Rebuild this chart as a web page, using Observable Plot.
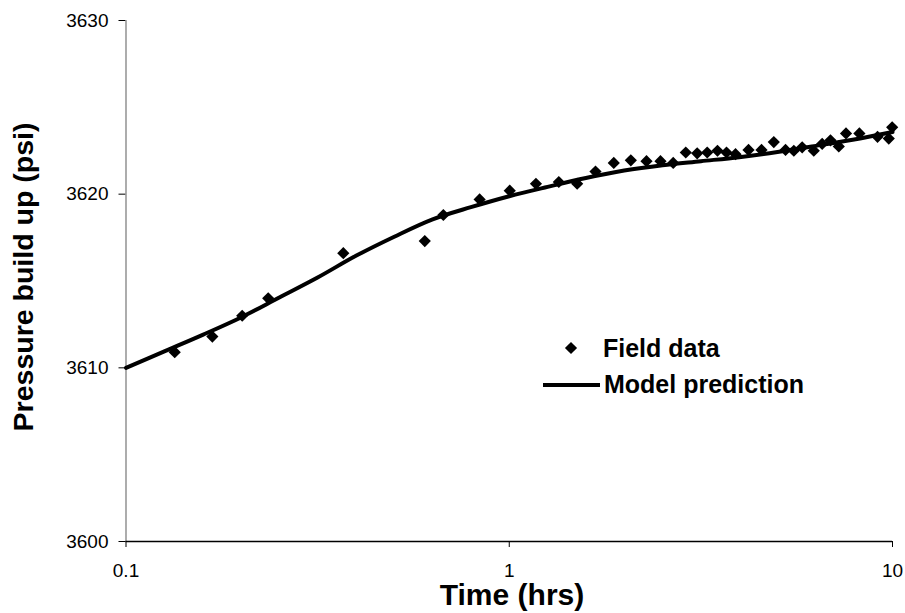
<!DOCTYPE html>
<html>
<head>
<meta charset="utf-8">
<script src="https://cdn.jsdelivr.net/npm/d3@7"></script>
<script src="https://cdn.jsdelivr.net/npm/@observablehq/plot@0.6"></script>
<style>
  html, body { margin: 0; padding: 0; background: #ffffff; }
  #chart { width: 905px; height: 613px; }
</style>
</head>
<body>
<div id="chart"></div>
<script>
// Field data (time in hrs, pressure in psi)
const fieldTime = [0.134, 0.168, 0.201, 0.235, 0.369, 0.602, 0.673, 0.837, 1.003, 1.174,
  1.347, 1.504, 1.679, 1.874, 2.076, 2.281, 2.481, 2.678, 2.888, 3.093,
  3.285, 3.494, 3.689, 3.894, 4.210, 4.552, 4.901, 5.259, 5.528, 5.812,
  6.232, 6.554, 6.889, 7.242, 7.563, 8.196, 9.140, 9.779, 9.98];
const fieldPressure = [3610.9, 3611.8, 3613.0, 3614.0, 3616.6, 3617.3, 3618.8, 3619.7, 3620.2, 3620.6,
  3620.7, 3620.6, 3621.3, 3621.8, 3621.95, 3621.9, 3621.9, 3621.8, 3622.4, 3622.35,
  3622.4, 3622.5, 3622.4, 3622.3, 3622.55, 3622.55, 3623.0, 3622.55, 3622.5, 3622.7,
  3622.5, 3622.9, 3623.1, 3622.75, 3623.5, 3623.5, 3623.3, 3623.2, 3623.85];

// Model prediction curve
const modelTime = [0.1, 0.1259, 0.1585, 0.1995, 0.2512, 0.3162, 0.3981, 0.5012, 0.6310, 0.7943,
  1.0, 1.259, 1.585, 1.995, 2.512, 3.162, 3.981, 5.012, 6.310, 7.943, 10];
const modelPressure = [3610.0, 3610.95, 3611.9, 3612.9, 3614.05, 3615.2, 3616.45, 3617.55, 3618.55, 3619.25,
  3619.88, 3620.42, 3620.93, 3621.36, 3621.67, 3621.9, 3622.13, 3622.43, 3622.78, 3623.15, 3623.58];

const xTicks = [0.1, 1, 10];
const yTicks = [3600, 3610, 3620, 3630];
const xTitle = "Time (hrs)";
const yTitle = "Pressure build up (psi)";
const legendLabels = ["Field data", "Model prediction"];

const field = fieldTime.map((t, i) => ({t, p: fieldPressure[i]}));
const model = modelTime.map((t, i) => ({t, p: modelPressure[i]}));

const chart = Plot.plot({
  width: 905,
  height: 613,
  marginLeft: 125.5,
  marginRight: 13,
  marginTop: 20,
  marginBottom: 72,
  style: {
    fontFamily: "'Liberation Sans', Arial, Helvetica, sans-serif",
    fontSize: "19px",
    color: "black",
    background: "white",
    overflow: "visible"
  },
  x: {type: "log", domain: [0.1, 10], ticks: xTicks, tickFormat: d => String(d),
      tickSize: 6, tickPadding: 16, label: null},
  y: {domain: [3600, 3630], ticks: yTicks, tickFormat: d => String(d),
      tickSize: 7, tickPadding: 10.5, label: null},
  marks: [
    Plot.ruleX([0.1], {stroke: "#808080", strokeWidth: 1.3}),
    Plot.ruleY([3600], {stroke: "black", strokeWidth: 1.3}),
    Plot.line(model, {x: "t", y: "p", stroke: "black", strokeWidth: 4, curve: "catmull-rom"}),
    Plot.dot(field, {x: "t", y: "p", symbol: "diamond2", fill: "black", stroke: "none", r: 5.5})
  ]
});

document.getElementById("chart").appendChild(chart);

const svg = d3.select(chart);
// Tick labels: larger font, as in the reference
svg.selectAll("text")
  .attr("font-size", 19)
  .style("font-size", "19px");
svg.selectAll("g").filter(function () { return this.getAttribute("font-size") != null; })
  .attr("font-size", 19);

// Titles
svg.append("text")
  .attr("transform", "translate(33,277) rotate(-90)")
  .attr("text-anchor", "middle")
  .attr("font-weight", "bold")
  .style("font-size", "28.5px")
  .attr("fill", "black")
  .text(yTitle);
svg.append("text")
  .attr("x", 512).attr("y", 605)
  .attr("text-anchor", "middle")
  .attr("font-weight", "bold")
  .style("font-size", "30px")
  .attr("fill", "black")
  .text(xTitle);

// Legend
const lg = svg.append("g").attr("font-weight", "bold")
  .attr("fill", "black").attr("text-anchor", "start");
lg.append("path")
  .attr("transform", "translate(571,348)")
  .attr("d", d3.symbol(d3.symbolDiamond2, Math.PI * 5.5 * 5.5)())
  .attr("fill", "black");
lg.append("text").attr("x", 603).attr("y", 357).style("font-size", "25px").text(legendLabels[0]);
lg.append("line").attr("x1", 543).attr("x2", 600).attr("y1", 385).attr("y2", 385)
  .attr("stroke", "black").attr("stroke-width", 4);
lg.append("text").attr("x", 604).attr("y", 393).style("font-size", "25px").text(legendLabels[1]);
</script>
</body>
</html>
